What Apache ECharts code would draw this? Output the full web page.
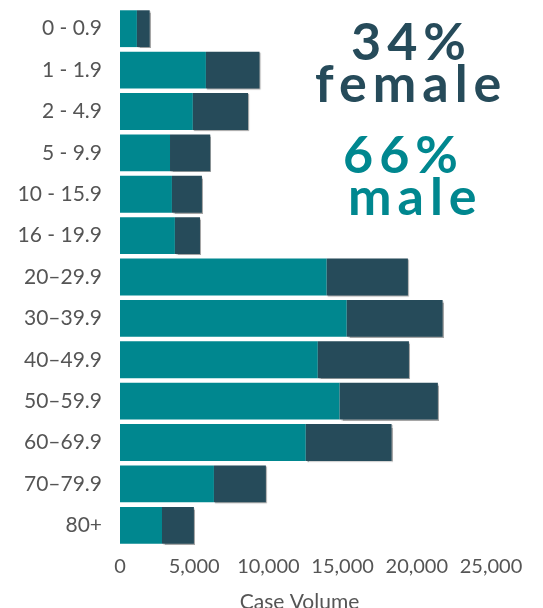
<!DOCTYPE html>
<html>
<head>
<meta charset="utf-8">
<script src="https://cdn.jsdelivr.net/npm/echarts@6/dist/echarts.min.js"></script>
<style>
  html, body { margin: 0; padding: 0; background: #fff; }
  #wrap { position: relative; width: 543px; height: 608px; }
  #chart { width: 543px; height: 608px; }
  .big {
    position: absolute;
    font-family: Lato, sans-serif;
    font-weight: bold;
    white-space: nowrap;
  }
</style>
</head>
<body>
<div id="wrap">
  <div id="chart"></div>
  <div class="big" style="left:351px;top:14px;font-size:52px;line-height:52px;letter-spacing:6px;color:#264b5a">34%</div>
  <div class="big" style="left:315px;top:56px;font-size:52px;line-height:52px;letter-spacing:6px;color:#264b5a">female</div>
  <div class="big" style="left:343px;top:127px;font-size:52px;line-height:52px;letter-spacing:6px;color:#00878f">66%</div>
  <div class="big" style="left:348px;top:169px;font-size:52px;line-height:52px;letter-spacing:6px;color:#00878f">male</div>
</div>
<script>
// age groups, top to bottom
const ageGroups = ['0 - 0.9', '1 - 1.9', '2 - 4.9', '5 - 9.9', '10 - 15.9', '16 - 19.9',
  '20–29.9', '30–39.9', '40–49.9', '50–59.9', '60–69.9', '70–79.9', '80+']
const maleCases = [1140, 5790, 4910, 3370, 3500, 3700, 13930, 15280, 13330, 14800, 12520, 6330, 2830]
const femaleCases = [860, 3610, 3720, 2710, 2020, 1690, 5470, 6460, 6140, 6620, 5780, 3500, 2150]
const xTicks = [0, 5000, 10000, 15000, 20000, 25000]

const chart = echarts.init(document.getElementById('chart'))

const option = {
  animation: false,
  textStyle: { fontFamily: 'Lato' },
  grid: { left: 120, right: 52, top: 8, bottom: 62, outerBoundsMode: 'none', containLabel: false },
  xAxis: {
    type: 'value',
    min: xTicks[0],
    max: xTicks[xTicks.length - 1],
    interval: xTicks[1] - xTicks[0],
    axisLine: { show: false },
    axisTick: { show: false },
    splitLine: { show: false },
    axisLabel: {
      color: '#555',
      fontSize: 20,
      margin: 11,
      formatter: (v) => v.toLocaleString('en-US')
    },
    name: 'Case Volume',
    nameLocation: 'middle',
    nameGap: 46,
    nameTextStyle: { color: '#555', fontSize: 21, padding: [0, 12, 0, 0] }
  },
  yAxis: {
    type: 'category',
    data: ageGroups,
    inverse: true,
    axisLine: { show: false },
    axisTick: { show: false },
    axisLabel: { color: '#555', fontSize: 21, margin: 18 }
  },
  series: [
    {
      name: 'male',
      type: 'bar',
      stack: 'total',
      data: maleCases,
      barCategoryGap: '11%',
      itemStyle: { color: '#00878f' }
    },
    {
      name: 'female',
      type: 'bar',
      stack: 'total',
      data: femaleCases,
      itemStyle: {
        color: '#264b5a',
        shadowColor: 'rgba(0,0,0,0.35)',
        shadowBlur: 1,
        shadowOffsetX: 1,
        shadowOffsetY: 1
      }
    }
  ]
}

chart.setOption(option)
</script>
</body>
</html>
